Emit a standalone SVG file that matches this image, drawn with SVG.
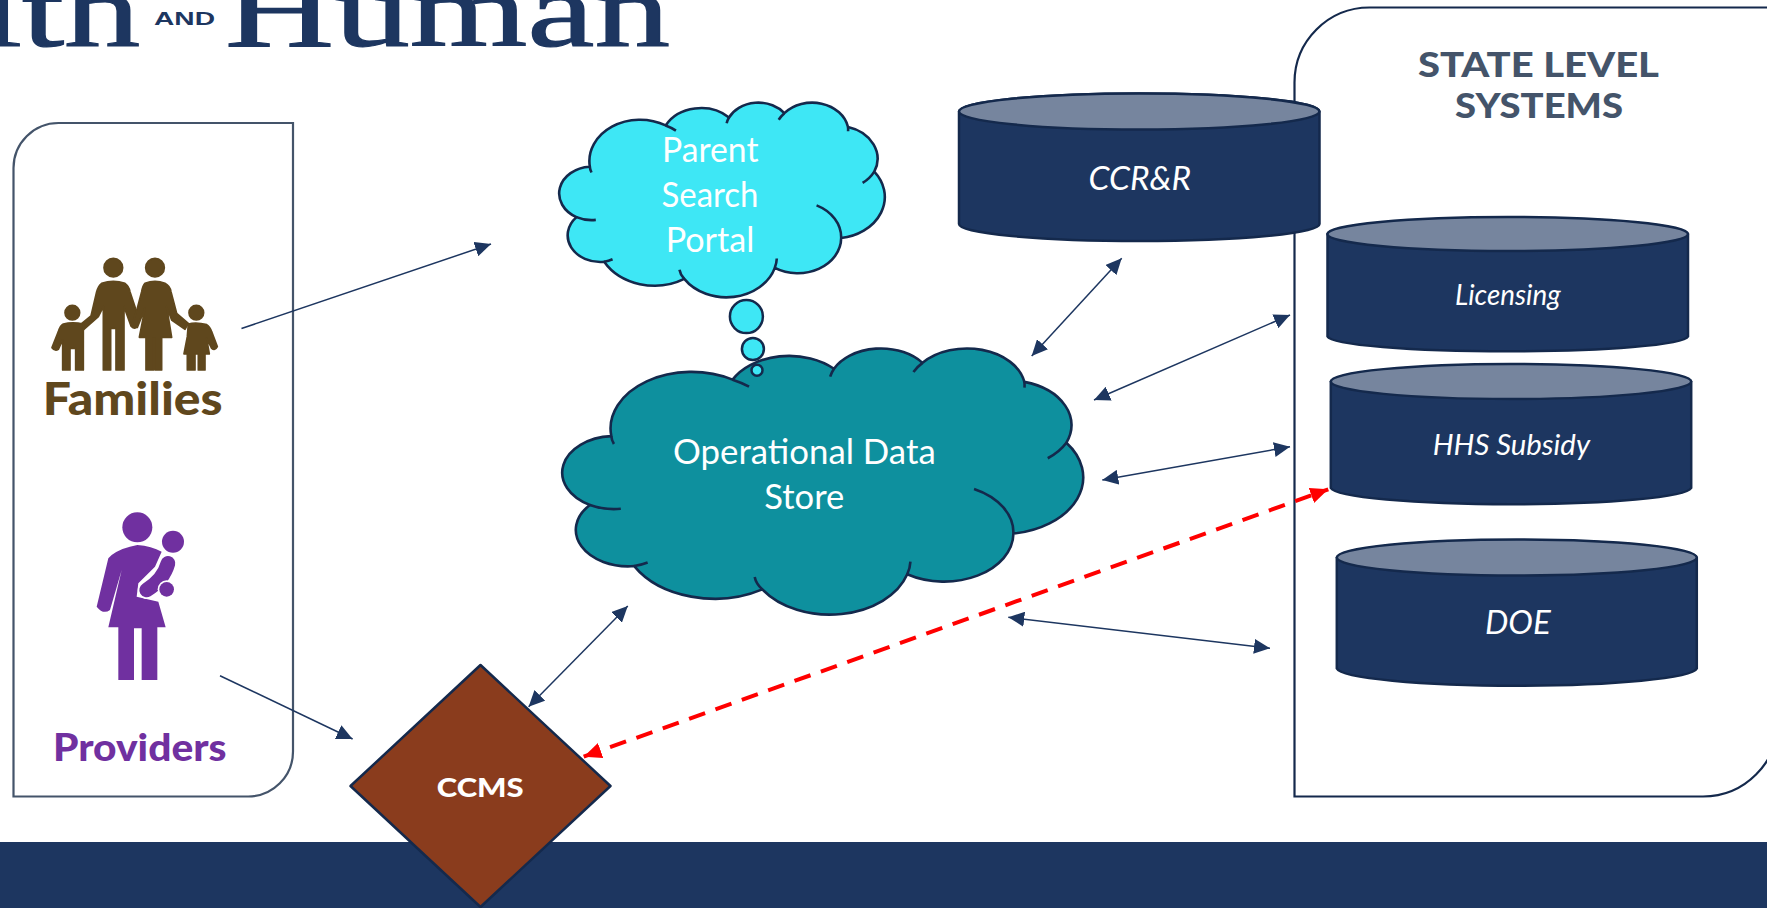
<svg xmlns="http://www.w3.org/2000/svg" xmlns:xlink="http://www.w3.org/1999/xlink" width="1767" height="908" viewBox="0 0 1767 908">
<style>
text{font-family:Lato,"Noto Sans",sans-serif}
.w{fill:#fff}
.i{font-style:italic}
.logo{font-family:"Liberation Serif",serif;fill:#1d3660;font-size:105px;stroke:#1d3660;stroke-width:1.2}
.cl{vector-effect:non-scaling-stroke;stroke:#14294c;stroke-width:2.6;stroke-linejoin:round}
.cli{vector-effect:non-scaling-stroke;stroke:#14294c;stroke-width:2.6;fill:none}
.body{fill:#1d3660;stroke:#14294c;stroke-width:2.5}
.top{fill:#76859e;stroke:#14294c;stroke-width:2.5}
.bub{fill:#3ee7f5;stroke:#14294c;stroke-width:2.5}
.c{stroke:#1d3660;stroke-width:1.5;fill:none;marker-end:url(#a);marker-start:url(#a)}
</style>
<defs>
<marker id="a" markerUnits="userSpaceOnUse" markerWidth="16" markerHeight="15" refX="16" refY="7.5" orient="auto-start-reverse"><path d="M0 0L16 7.5L0 15Z" fill="#1d3660"/></marker>
<marker id="r" markerUnits="userSpaceOnUse" markerWidth="18" markerHeight="16" refX="18" refY="8" orient="auto-start-reverse"><path d="M0 0L18 8L0 16Z" fill="#ff0000"/></marker>
<path id="cloudOuter" class="cl" d="M3900 14370A6753 9190 0 0 1 14008 5204A5333 7267 0 0 1 22459 3433A4365 5945 0 0 1 29835 2478A4857 6595 0 0 1 38322 5570A5333 7273 0 0 1 41822 15456A6775 9220 0 0 1 37410 30205A5785 7867 0 0 1 28561 36815A6752 9215 0 0 1 16488 39271A7720 10543 0 0 1 5812 35479A4360 5918 0 0 1 2120 25557A4345 5945 0 0 1 3900 14370Z"/>
<path id="cloudInner" class="cli" d="M4693 26177A4345 5945 0 0 1 2120 25557M6928 34899A4360 5918 0 0 1 5812 35479M16488 39271Q15950 38300 15851 37240M28827 34751Q28800 35800 28561 36815M34129 22954A5785 7867 0 0 1 37410 30205M41822 15456A5333 7273 0 0 1 40270 17970M38322 5570Q38350 6000 38330 6500M29078 3952A4857 6595 0 0 1 29835 2478M22141 4720A4365 5945 0 0 1 22459 3433M14008 5204A6753 9190 0 0 1 15378 6346M3900 14370Q3920 15000 4120 15650"/>
</defs>

<rect width="1767" height="908" fill="#fff"/>
<rect id="band" x="0" y="842" width="1767" height="66" fill="#1d3660"/>

<g id="logo">
<text class="logo" x="-20" y="46" textLength="160" lengthAdjust="spacingAndGlyphs">lth</text>
<text x="154" y="25" font-size="18" font-weight="700" fill="#1d3660" textLength="61" lengthAdjust="spacingAndGlyphs" style="font-family:'Liberation Sans',sans-serif">AND</text>
<text class="logo" x="225" y="46" textLength="445" lengthAdjust="spacingAndGlyphs">Human</text>
</g>

<g id="users-panel">
<path d="M293 123V751.5A45 45 0 0 1 248 796.5H13.5V168A45 45 0 0 1 58.5 123Z" fill="#fff" stroke="#44546a" stroke-width="2.2"/>
</g>

<g id="families">
<g transform="translate(30 250) scale(.3333)" fill="#5f471d" stroke="#5f471d" stroke-width="5" stroke-linejoin="round">
<circle cx="250" cy="53" r="28"/>
<circle cx="375" cy="53" r="28"/>
<circle cx="127" cy="188" r="22"/>
<circle cx="499" cy="188" r="22"/>
<path d="M215 100Q250 88 285 100Q297 108 300 125L325 200L320 232Q310 238 303 228L282 170V360H258V235H242V360H220V170L205 200L160 240L150 225L183 198L200 125Q205 108 215 100Z"/>
<path d="M345 100Q375 88 405 100Q420 108 423 125L440 190L475 220L465 238L425 210L410 170L425 262H395V360H375V265H370V360H348V262H328L345 175L322 232L305 228L322 175L335 125Q338 108 345 100Z"/>
<path d="M100 222Q127 215 160 222V360H137V295H120V360H98V270L85 298Q75 305 66 293L85 245Q90 228 100 222Z"/>
<path d="M475 222Q499 215 530 224Q540 230 545 245L562 290Q555 303 545 295L530 265L538 312H525V360H505V312H495V360H472V312H462L472 260Z"/>
</g>
<text x="42.7" y="415" font-size="45" font-weight="900" fill="#5f471d" textLength="180" lengthAdjust="spacingAndGlyphs">Families</text>
</g>

<g id="providers">
<g transform="translate(80 500) scale(.3333)">
<circle cx="172" cy="82" r="45" fill="#7030a0"/>
<circle cx="279" cy="125" r="33" fill="#7030a0"/>
<path fill="#7030a0" d="M95 165Q125 143 172 135Q215 138 245 155L225 200L175 250L170 290L235 305L257 382H232V540H185V385H162V540H115V382H85L125 210L90 330Q70 345 50 320L85 175Z"/>
<path d="M264 190Q250 240 200 270" fill="none" stroke="#fff" stroke-width="54" stroke-linecap="round"/>
<path d="M264 190Q250 240 200 270" fill="none" stroke="#7030a0" stroke-width="44" stroke-linecap="round"/>
<circle cx="260" cy="268" r="27" fill="#fff"/>
<circle cx="260" cy="268" r="22" fill="#7030a0"/>
</g>
<text x="53" y="760.5" font-size="37" font-weight="900" fill="#7030a0" textLength="173.5" lengthAdjust="spacingAndGlyphs">Providers</text>
</g>

<g id="state-level-systems">
<path d="M1294.5 82.5A75 75 0 0 1 1369.5 7.5H1778V721.5A75 75 0 0 1 1703 796.5H1294.5Z" fill="#fff" stroke="#14294c" stroke-width="2.2"/>
<text x="1418" y="76.5" font-size="35" font-weight="900" fill="#44546a" textLength="241" lengthAdjust="spacingAndGlyphs">STATE LEVEL</text>
<text x="1455" y="118" font-size="35" font-weight="900" fill="#44546a" textLength="168" lengthAdjust="spacingAndGlyphs">SYSTEMS</text>
</g>

<g id="ccrr">
<path class="body" d="M959 111.5A180 18 0 0 1 1319.5 111.5V224A180 17 0 0 1 959 224Z"/>
<ellipse class="top" cx="1139.2" cy="111.5" rx="180.2" ry="18"/>
<text class="w i" x="1088.5" y="189.5" font-size="32" textLength="102.5" lengthAdjust="spacingAndGlyphs">CCR&amp;R</text>
</g>

<g id="licensing">
<path class="body" d="M1327.5 234A180.4 17 0 0 1 1688 234V336.5A180.4 15.5 0 0 1 1327.5 336.5Z"/>
<ellipse class="top" cx="1507.7" cy="234" rx="180.3" ry="17"/>
<text class="w i" x="1455" y="305" font-size="28" textLength="105.7" lengthAdjust="spacingAndGlyphs">Licensing</text>
</g>

<g id="hhs-subsidy">
<path class="body" d="M1330.8 381.5A180.4 17.5 0 0 1 1691.2 381.5V488A180.4 17 0 0 1 1330.8 488Z"/>
<ellipse class="top" cx="1511" cy="381.5" rx="180.2" ry="17.5"/>
<text class="w i" x="1432.7" y="455" font-size="28" textLength="157.3" lengthAdjust="spacingAndGlyphs">HHS Subsidy</text>
</g>

<g id="doe">
<path class="body" d="M1336.8 557.5A180.2 18 0 0 1 1696.8 557.5V668.5A180.2 18 0 0 1 1336.8 668.5Z"/>
<ellipse class="top" cx="1516.8" cy="557.5" rx="180" ry="18"/>
<text class="w i" x="1485" y="634" font-size="32" textLength="65.7" lengthAdjust="spacingAndGlyphs">DOE</text>
</g>

<g id="parent-search-portal">
<g fill="#3ee7f5" transform="translate(560.6 102) scale(.0075 .0045046)"><use href="#cloudOuter"/><use href="#cloudInner"/></g>
<text class="w" x="662" y="161.5" font-size="34" textLength="96.5" lengthAdjust="spacingAndGlyphs">Parent</text>
<text class="w" x="661.5" y="207" font-size="34" textLength="97" lengthAdjust="spacingAndGlyphs">Search</text>
<text class="w" x="665.7" y="252" font-size="34" textLength="88.6" lengthAdjust="spacingAndGlyphs">Portal</text>
</g>

<g id="operational-data-store">
<g fill="#0e909e" transform="translate(564.5 347.6) scale(.012 .0061575)"><use href="#cloudOuter"/><use href="#cloudInner"/></g>
<text class="w" x="673" y="463.5" font-size="34" textLength="262.7" lengthAdjust="spacingAndGlyphs">Operational Data</text>
<text class="w" x="764.3" y="509" font-size="34" textLength="80" lengthAdjust="spacingAndGlyphs">Store</text>
</g>

<g id="thought-bubbles">
<circle class="bub" cx="746.4" cy="316.6" r="16.5"/>
<circle class="bub" cx="752.9" cy="349" r="11"/>
<circle class="bub" cx="757" cy="370.3" r="5.5"/>
</g>

<g id="ccms">
<path d="M480.5 665L610.5 786L480.5 907L350.5 786Z" fill="#8a3c1d" stroke="#14294c" stroke-width="2.5" stroke-linejoin="round"/>
<text class="w" x="436.7" y="797" font-size="26" font-weight="900" textLength="87" lengthAdjust="spacingAndGlyphs">CCMS</text>
</g>

<g id="connectors">
<path d="M241.5 328.5L491 244" stroke="#1d3660" stroke-width="1.5" fill="none" marker-end="url(#a)"/>
<path d="M220 675.7L352.6 739" stroke="#1d3660" stroke-width="1.5" fill="none" marker-end="url(#a)"/>
<path class="c" d="M528.6 706.7L627.8 606"/>
<path class="c" d="M1031.7 356L1121.7 258.3"/>
<path class="c" d="M1094 400L1290 315"/>
<path class="c" d="M1102.3 480L1290 446.7"/>
<path class="c" d="M1008.3 617.3L1270 648.3"/>
<path d="M583.7 756.7L1328.3 489.3" stroke="#ff0000" stroke-width="4" stroke-dasharray="17 11" fill="none" marker-start="url(#r)" marker-end="url(#r)"/>
</g>
</svg>
